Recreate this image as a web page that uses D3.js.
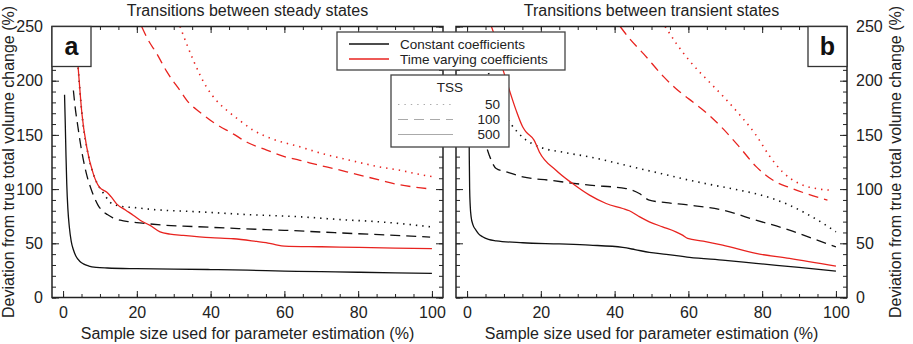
<!DOCTYPE html>
<html lang="en">
<head>
<meta charset="UTF-8">
<title>Deviation from true total volume change</title>
<script src="https://d3js.org/d3.v7.min.js"></script>
<style>
    body {margin: 0; background: #fff;}
    text {font-family: "Liberation Sans", Arial, sans-serif; fill: #222;}
    .tick text {font-size: 16px;}
</style>
</head>
<body>
<script>
    const width = 913;
    const height = 344;

    // ticks
    const xTicks = [0, 20, 40, 60, 80, 100];
    const xMinor = [0, 5, 10, 15, 20, 25, 30, 35, 40, 45, 50, 55, 60, 65, 70, 75, 80, 85, 90, 95, 100];
    const yTicks = [0, 50, 100, 150, 200, 250];
    const yMinor = [0, 10, 20, 30, 40, 50, 60, 70, 80, 90, 100, 110, 120, 130, 140, 150, 160, 170, 180, 190, 200, 210, 220, 230, 240, 250];
    const tssLabels = ["50", "100", "500"];

    // a: transitions between steady states  [sample size %, deviation %]
    const steadyConst50 = [[4.1,212],[5.1,170],[6.4,139],[8.2,114],[9.8,102],[11.2,95],[12.7,88],[14.5,85],[17,83.5],[19,83],[25,81],[37,79],[50,76.5],[64,74.5],[77,71.5],[85,70],[92,68],[100,65]];
    const steadyConst100 = [[2.8,191],[3.3,175],[4,158],[4.8,140],[5.5,127],[6.5,112],[7.5,101],[8.5,92],[9.5,85],[10.5,80.5],[12,76.5],[13.5,73.5],[15.5,71.3],[18,69.8],[22,68.4],[28,66.5],[35,65.5],[45,64],[55,62.6],[60,62],[70,60.4],[80,58.8],[90,57.3],[99.5,55.7]];
    const steadyConst500 = [[0.4,187],[0.6,160],[0.8,130],[1,105],[1.3,82],[1.7,65],[2.2,52],[2.8,44],[3.5,38],[4.5,33.5],[5.5,31],[7,29],[9,27.8],[12,27.2],[20,26.6],[30,26.2],[40,25.8],[50,25.2],[60,24.4],[70,23.8],[80,23.3],[90,22.8],[100,22.3]];
    const steadyTv50 = [[31.7,250],[33.5,234],[35.3,219],[38.9,194],[41.5,182],[44.4,172.7],[48,163],[51.6,154.2],[57,146],[64.2,139],[70,133],[77.8,126.6],[85,121],[91.3,117.4],[96,114],[100,111.5]];
    const steadyTv100 = [[21.3,250],[23,238],[25.4,225],[28,209],[31.7,191],[34,180],[37.1,171],[41,161],[46.1,151],[50,143],[55.2,136],[60,130],[64.2,126.6],[70,121.5],[73.3,119],[78.7,114.4],[86,108.2],[90.4,104.5],[95,102],[100,100]];
    const steadyTv500 = [[3.3,250],[3.7,230],[4.1,212],[5.1,170],[6.4,139],[8.2,114],[9.8,102],[10.5,99.8],[11.8,97.4],[13,93],[14.5,86.4],[17,80.5],[19.1,75.7],[21,71],[23.6,66.5],[26.3,60.5],[29,58.5],[32.6,57.3],[40,55.2],[46.2,54.2],[52.5,51.7],[55,50.6],[57.5,48.8],[60,47.4],[70,46.8],[80,46.2],[90,45.6],[100,45]];

    // b: transitions between transient states
    const transConst50 = [[4,230],[6,205],[8,186],[10,170],[11.9,160],[15,148],[19.6,139],[26,134],[33.2,129.7],[40,124.5],[46.7,119],[53,114],[60.3,108.2],[67,103.5],[73.8,99],[78.5,95.5],[82.8,91.3],[87.5,85],[91.9,77.5],[96,69.5],[100,60.6]];
    const transConst100 = [[3,195],[3.5,178],[4.2,158],[5.2,140],[6.05,131],[7.9,119],[10.6,115.9],[15.1,111.3],[22.3,108.2],[33.2,103.6],[43.1,100.5],[46.7,95.9],[49.4,89.8],[54,87.5],[60.3,85.2],[69.3,80.6],[78.3,71.4],[87.4,62.2],[94,54],[100,46.8]];
    const transConst500 = [[0.5,190],[0.55,160],[0.6,130],[0.7,100],[0.85,85],[1.1,74.4],[1.6,67],[2.4,62.2],[3.2,58.5],[4.2,56],[5.8,53.6],[7.9,52.3],[15.1,50.5],[25,49.4],[33.2,48.3],[42.2,46.2],[45.5,44.2],[49.4,41.6],[54,39.8],[60.3,37],[70,34.3],[78.3,31.5],[90,27.8],[100,24.4]];
    const transTv50 = [[53.7,250],[56.8,234],[60.4,218],[65.9,198],[69.3,186],[73.8,169],[78.3,150],[81.9,131],[85.5,116],[90,105.1],[94.6,100.5],[98.6,99]];
    const transTv100 = [[41.5,250],[44,239],[47.8,225],[53.2,204],[56.5,193],[60.2,183],[65.7,168],[69.3,156],[73.8,139],[78.3,121],[83.7,106.6],[87.4,101.5],[91.9,95.9],[97.7,89.8]];
    const transTv500 = [[6.6,250],[7.5,240],[8.1,228],[9.8,209.5],[11.5,191],[13.3,172.6],[15.1,157.3],[16,152.7],[18.2,145],[19.6,134.3],[24.1,117.4],[28.6,105.1],[33.2,94.4],[37.7,86.7],[42.2,82.1],[44,80],[46.5,75],[49.4,69.8],[53,65.2],[56.6,60.6],[58.4,57.5],[59.8,54.5],[64,52],[69.3,48.3],[78.3,40.7],[87.4,36.1],[100,29]];

    const dashes = {"50": "1.4,5", "100": "10,6", "500": null};
    const red = "#e8231f";
    const black = "#111";

    const panels = [
        {id: "a", title: "Transitions between steady states", left: 52, right: 443, yLabels: "left",
         series: [
             {data: steadyConst50, tss: "50", color: black},
             {data: steadyConst100, tss: "100", color: black},
             {data: steadyConst500, tss: "500", color: black},
             {data: steadyTv50, tss: "50", color: red},
             {data: steadyTv100, tss: "100", color: red},
             {data: steadyTv500, tss: "500", color: red}
         ]},
        {id: "b", title: "Transitions between transient states", left: 456, right: 847, yLabels: "right",
         series: [
             {data: transConst50, tss: "50", color: black},
             {data: transConst100, tss: "100", color: black},
             {data: transConst500, tss: "500", color: black},
             {data: transTv50, tss: "50", color: red},
             {data: transTv100, tss: "100", color: red},
             {data: transTv500, tss: "500", color: red}
         ]}
    ];

    const plotTop = 26.5, plotBottom = 297.5;

    const svg = d3.select("body").append("svg")
            .attr("width", width).attr("height", height);

    const y = d3.scaleLinear().domain([0, 250]).range([plotBottom, plotTop]);

    panels.forEach(function(p) {
        const x = d3.scaleLinear().domain([-3, 103]).range([p.left, p.right]);
        const g = svg.append("g").attr("class", "panel");

        g.append("clipPath").attr("id", "clip_" + p.id)
                .append("rect")
                .attr("x", p.left).attr("y", plotTop)
                .attr("width", p.right - p.left).attr("height", plotBottom - plotTop);

        const line = d3.line()
                .x(d => x(d[0]))
                .y(d => y(d[1]))
                .curve(d3.curveMonotoneX);

        g.append("g").attr("clip-path", "url(#clip_" + p.id + ")")
                .selectAll("path")
                .data(p.series)
                .enter()
                .append("path")
                .attr("d", d => line(d.data))
                .style("fill", "none")
                .style("stroke", d => d.color)
                .style("stroke-width", d => d.tss == "50" ? 1.6 : 1.3)
                .style("stroke-dasharray", d => dashes[d.tss]);

        // axes: minor and major ticks on every side
        function axis(gen, values, size, labels, transform) {
            const a = g.append("g").attr("transform", transform)
                    .call(gen.tickValues(values).tickSize(-size).tickSizeOuter(0)
                            .tickPadding(labels ? 9 : 3)
                            .tickFormat(labels ? d3.format("d") : ""));
            a.select(".domain").remove();
            a.selectAll(".tick line").style("stroke", "#222").style("stroke-width", 1);
            a.selectAll(".tick text").style("fill", "#222");
            return a;
        }
        axis(d3.axisBottom(x), xMinor, 3.5, false, `translate(0,${plotBottom})`);
        axis(d3.axisBottom(x), xTicks, 6.5, true, `translate(0,${plotBottom})`);
        axis(d3.axisTop(x), xMinor, 3.5, false, `translate(0,${plotTop})`);
        axis(d3.axisTop(x), xTicks, 6.5, false, `translate(0,${plotTop})`);
        axis(d3.axisLeft(y), yMinor, 4, false, `translate(${p.left},0)`);
        axis(d3.axisLeft(y), yTicks, 7, p.yLabels == "left", `translate(${p.left},0)`);
        axis(d3.axisRight(y), yMinor, 4, false, `translate(${p.right},0)`);
        axis(d3.axisRight(y), yTicks, 7, p.yLabels == "right", `translate(${p.right},0)`);

        g.append("rect")
                .attr("x", p.left).attr("y", plotTop)
                .attr("width", p.right - p.left).attr("height", plotBottom - plotTop)
                .style("fill", "none").style("stroke", "#222").style("stroke-width", 1.5);

        // title + x label
        const cx = (p.left + p.right) / 2;
        g.append("text").attr("x", cx).attr("y", 16)
                .attr("text-anchor", "middle").style("font-size", "16px")
                .text(p.title);
        g.append("text").attr("x", cx).attr("y", 339)
                .attr("text-anchor", "middle").style("font-size", "16px")
                .text("Sample size used for parameter estimation (%)");

        // panel letter box
        const bx = p.id == "a" ? p.left : p.right - 39;
        g.append("rect").attr("x", bx).attr("y", plotTop).attr("width", 39).attr("height", 40)
                .style("fill", "#fff").style("stroke", "#333").style("stroke-width", 1.3);
        g.append("text").attr("x", bx + 19.5).attr("y", plotTop + 28)
                .attr("text-anchor", "middle")
                .style("font-size", "25px").style("font-weight", "bold").style("fill", "#111")
                .text(p.id);
    });

    // y axis titles
    const midY = (plotTop + plotBottom) / 2;
    svg.append("text")
            .attr("transform", `translate(14,${midY}) rotate(-90)`)
            .attr("text-anchor", "middle").style("font-size", "16px")
            .text("Deviation from true total volume change (%)");
    svg.append("text")
            .attr("transform", `translate(901,${midY}) rotate(-90)`)
            .attr("text-anchor", "middle").style("font-size", "16px")
            .text("Deviation from true total volume change (%)");

    // legend: coefficient type
    const leg = svg.append("g");
    leg.append("rect").attr("x", 337).attr("y", 32).attr("width", 228).attr("height", 38)
            .style("fill", "#fff").style("stroke", "#444").style("stroke-width", 1.3);
    const kinds = [{label: "Constant coefficients", color: black}, {label: "Time varying coefficients", color: red}];
    kinds.forEach(function(k, i) {
        const ly = 44 + i * 15;
        leg.append("line").attr("x1", 349).attr("x2", 389).attr("y1", ly).attr("y2", ly)
                .style("stroke", k.color).style("stroke-width", 1.3);
        leg.append("text").attr("x", 400).attr("y", ly + 4.5)
                .style("font-size", "13.5px").text(k.label);
    });

    // legend: TSS
    leg.append("rect").attr("x", 391).attr("y", 75).attr("width", 118).attr("height", 72)
            .style("fill", "#fff").style("stroke", "#444").style("stroke-width", 1.3);
    leg.append("text").attr("x", 450).attr("y", 92)
            .attr("text-anchor", "middle").style("font-size", "13.5px").text("TSS");
    tssLabels.forEach(function(t, i) {
        const ly = 104.5 + i * 15;
        leg.append("line").attr("x1", 398).attr("x2", 453).attr("y1", ly).attr("y2", ly)
                .style("stroke", "#aaa").style("stroke-width", 1.2)
                .style("stroke-dasharray", dashes[t]);
        leg.append("text").attr("x", 500).attr("y", ly + 4.5)
                .attr("text-anchor", "end").style("font-size", "13.5px").text(t);
    });
</script>
</body>
</html>
